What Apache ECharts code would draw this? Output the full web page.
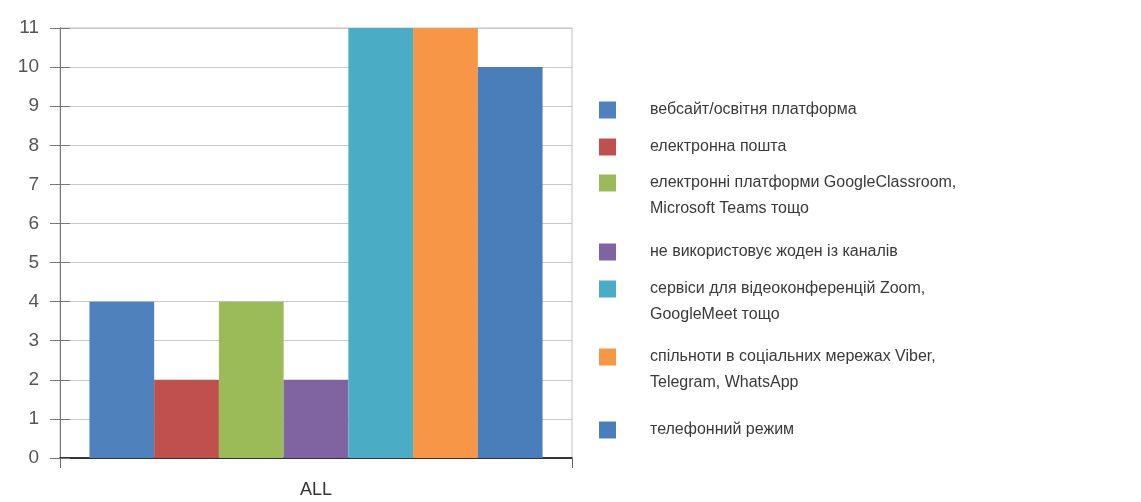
<!DOCTYPE html>
<html>
<head>
<meta charset="utf-8">
<script src="https://cdn.jsdelivr.net/npm/echarts@6/dist/echarts.min.js"></script>
<style>html,body{margin:0;padding:0;background:#fff}#c{width:1141px;height:502px}</style>
</head>
<body>
<div id="c"></div>
<script>
const categories = ['ALL'];
const seriesNames = [
  'вебсайт/освітня платформа',
  'електронна пошта',
  'електронні платформи GoogleClassroom,\nMicrosoft Teams тощо',
  'не використовує жоден із каналів',
  'сервіси для відеоконференцій Zoom,\nGoogleMeet тощо',
  'спільноти в соціальних мережах Viber,\nTelegram, WhatsApp',
  'телефонний режим'
];
const seriesValues = [4, 2, 4, 2, 11, 11, 10];
const yTicks = [0,1,2,3,4,5,6,7,8,9,10,11];
const colors = ['#4F81BD','#C0504D','#9BBB59','#8064A2','#4BACC6','#F79646','#4A7EBB'];
const legendCenters = [110, 147, 183, 252, 289, 357, 430];

const FONT = 'Liberation Sans, Arial, sans-serif';
const LH = 26, SQ = 17;
const series = seriesNames.map((n, i) => ({
  name: n, type: 'bar', data: [seriesValues[i]],
  barGap: '0%', barCategoryGap: '11.5%',
  itemStyle: { color: colors[i] }
}));
const legends = seriesNames.map((n, i) => {
  const multi = n.indexOf('\n') >= 0;
  const ih = multi ? SQ + LH : SQ;
  return {
    left: 599, top: legendCenters[i] - LH / 2, orient: 'vertical', padding: 0,
    itemWidth: SQ, itemHeight: ih, selectedMode: false,
    icon: multi ? 'path://M0,0h' + SQ + 'v' + SQ + 'h-' + SQ + 'z M0,' + (ih - 0.1) + 'h0.1v0.1h-0.1z' : 'rect',
    data: [n],
    textStyle: { fontFamily: FONT, fontSize: 16, color: '#3a3a3a', lineHeight: LH,
      padding: [0, 0, 0, 650 - 599 - SQ - 5] }
  };
});
const chart = echarts.init(document.getElementById('c'), null, { renderer: 'canvas' });
chart.setOption({
  animation: false,
  color: colors,
  legend: legends,
  grid: { left: 60, right: 569, top: 28, bottom: 44, show: true, borderColor: '#c0c0c0', borderWidth: 1, backgroundColor: 'transparent' },
  xAxis: {
    type: 'category', data: categories,
    axisLine: { show: true, lineStyle: { color: '#000', width: 1.5 } },
    axisTick: { show: true, length: 10, lineStyle: { color: '#666' } },
    axisLabel: { fontFamily: FONT, fontSize: 18, color: '#333', margin: 23 }
  },
  yAxis: [{
    type: 'value', min: yTicks[0], max: yTicks[yTicks.length - 1], interval: 1,
    axisLine: { show: true, lineStyle: { color: '#777', width: 1 } },
    axisTick: { show: true, length: 10, lineStyle: { color: '#777' } },
    axisLabel: { fontFamily: FONT, fontSize: 19, color: '#555', margin: 21 },
    splitLine: { show: true, lineStyle: { color: '#c8c8c8', width: 1 } }
  }, {
    type: 'value', position: 'left', min: yTicks[0], max: yTicks[yTicks.length - 1], interval: 1,
    axisLine: { show: false }, axisLabel: { show: false }, splitLine: { show: false },
    axisTick: { show: true, inside: true, length: 10, lineStyle: { color: '#777' } }
  }],
  series: series
});
</script>
</body>
</html>
